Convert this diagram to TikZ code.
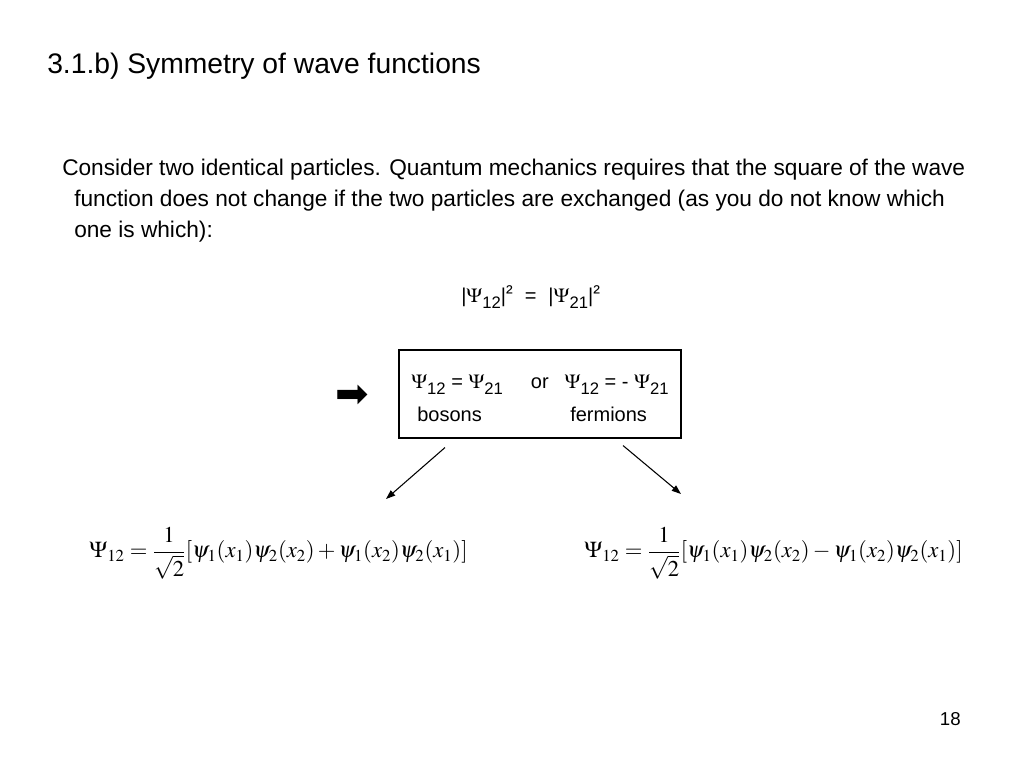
\documentclass[tikz,border=0pt]{standalone}
\usepackage{mathptmx}
\usepackage[no-math]{fontspec}
\setmainfont{Liberation Sans}
\newfontfamily\symfont{DejaVu Sans}
\usetikzlibrary{arrows.meta}
\newcommand{\Psub}[1]{{\fontsize{15}{16}\selectfont$\Psi$}\raisebox{-4.5pt}{\fontsize{12.5}{12}\selectfont #1}}
\begin{document}
\begin{tikzpicture}[x=0.75pt, y=-0.75pt,
  txt/.style = {inner sep=0pt, anchor=west, font=\fontsize{17}{20}\selectfont},
  boxtxt/.style = {inner sep=0pt, anchor=west, font=\fontsize{15}{18}\selectfont},
  frm/.style = {inner sep=0pt, font=\fontsize{17}{20}\selectfont},
  link/.style = {-{Triangle[length=7pt, width=5pt]}, line width=0.8pt}]
\useasboundingbox (0,0) rectangle (1024,768);

\node[txt, font=\fontsize{21.2}{24}\selectfont] (title) at (47,66) {3.1.b) Symmetry of wave functions};

\node[txt] (line1) at (62,170) {Consider two identical particles. Quantum mechanics requires that the square of the wave};
\node[txt] (line2) at (74,201) {function does not change if the two particles are exchanged (as you do not know which};
\node[txt] (line3) at (74,232) {one is which):};

\node[boxtxt, anchor=base west] (square) at (461,302) {|\Psub{12}|\raisebox{2pt}{²}\hspace{9pt}=\hspace{9pt}|\Psub{21}|\raisebox{2pt}{²}};

\node[draw, line width=0.8pt, minimum width=282*0.75pt, minimum height=88*0.75pt] (box) at (540,394) {};
\node[boxtxt, anchor=base west] (cases) at (411,388) {\Psub{12} = \Psub{21}\hspace{21pt}or\hspace{12pt}\Psub{12} = - \Psub{21}};
\node[boxtxt] (bos) at (417,414) {bosons};
\node[boxtxt] (ferm) at (570,414) {fermions};

\node[inner sep=0pt, font=\symfont\fontsize{30}{30}\selectfont] (imp) at (352,396) {➡};

% symmetric and antisymmetric wave functions
\node[frm, anchor=west] (sym) at (89,553) {$\displaystyle\Psi_{12}=\frac{1}{\sqrt{2}}[\psi_1(x_1)\psi_2(x_2)+\psi_1(x_2)\psi_2(x_1)]$};
\node[frm, anchor=west] (asym) at (584,553) {$\displaystyle\Psi_{12}=\frac{1}{\sqrt{2}}[\psi_1(x_1)\psi_2(x_2)-\psi_1(x_2)\psi_2(x_1)]$};

\coordinate (symtop) at (386,499);
\coordinate (asymtop) at (681,494);
\draw[link] ([xshift=-95*0.75pt, yshift=-9*0.75pt]box.south) -- (symtop);
\draw[link] ([xshift=83*0.75pt, yshift=-7*0.75pt]box.south) -- (asymtop);

\node[txt, font=\fontsize{14}{16}\selectfont, anchor=east] (page) at (961,719) {18};
\end{tikzpicture}
\end{document}
